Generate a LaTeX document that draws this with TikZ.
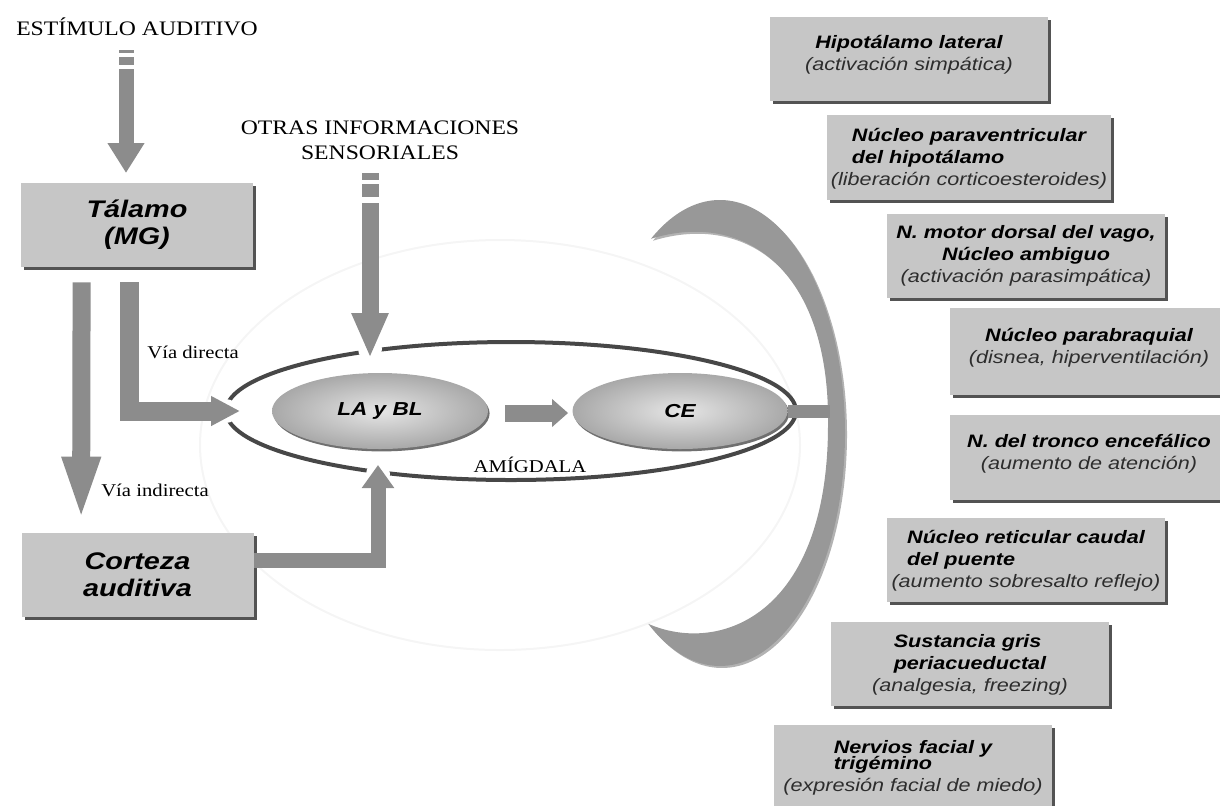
\documentclass[tikz,border=0pt]{standalone}
\usepackage{fontspec}
\setmainfont{Liberation Serif}
\newfontfamily\headfont[FakeStretch=1.15]{Liberation Serif}
\newfontfamily\boxfont[FakeStretch=1.2]{Liberation Sans}
\usetikzlibrary{shapes.geometric,arrows.meta,shadows,calc}
\definecolor{boxgray}{RGB}{198,198,198}
\definecolor{arrowgray}{RGB}{140,140,140}
\definecolor{arcgray}{RGB}{152,152,152}
\definecolor{subgray}{RGB}{45,45,45}
\newcommand{\subtxt}[1]{{\mdseries\color{subgray}#1}}

\begin{document}
\begin{tikzpicture}[x=0.5pt,y=-0.5pt,
        headtxt/.style={font=\headfont\fontsize{10.3}{12.5}\selectfont,align=center},
        smalltxt/.style={font=\headfont\fontsize{9}{11}\selectfont},
        bigbox/.style={rectangle,fill=boxgray,minimum width=116pt,minimum height=42pt,align=center,
            font=\boxfont\bfseries\itshape\fontsize{12}{13.5}\selectfont,
            drop shadow={shadow xshift=1.5pt,shadow yshift=-1.5pt,fill=black!75,opacity=.9}},
        sidebox/.style={rectangle,fill=boxgray,minimum width=139pt,minimum height=42pt,align=center,
            inner xsep=2pt,font=\boxfont\bfseries\itshape\fontsize{9}{11}\selectfont,
            drop shadow={shadow xshift=1.5pt,shadow yshift=-1.5pt,fill=black!75,opacity=.9}},
        nucleus/.style={ellipse,minimum width=108pt,minimum height=38pt,inner color=black!10,outer color=black!34,
            font=\boxfont\bfseries\itshape\fontsize{9.4}{11}\selectfont,
            drop shadow={shadow xshift=.8pt,shadow yshift=-1.2pt,fill=black!70,opacity=.8}},
        fatarrow/.style n args={3}{draw=arrowgray,line width=#1,line join=miter,-{Triangle[width=#2,length=#3]}},
        stubline/.style={draw=arrowgray,line width=#1}]
        \useasboundingbox (0,0) rectangle (1220,805);

        % faint background ring
        \draw[black!4,line width=1pt] (500,445) ellipse [x radius=300, y radius=205];

        % titles
        \node[headtxt] (estimulo) at (137,27) {ESTÍMULO AUDITIVO};
        \node[headtxt] (otras) at (380,140) {OTRAS INFORMACIONES\\SENSORIALES};

        % left boxes
        \node[bigbox] (talamo) at (137,225) {Tálamo\\(MG)};
        \node[bigbox] (corteza) at (137.5,575) {Corteza\\auditiva};

        % amygdala
        \node[ellipse,draw=black!72,line width=2pt,minimum width=285pt,minimum height=69pt] (amyg) at (511,411) {};
        \node[nucleus] (labl) at (380,411) {LA y BL};
        \node[nucleus,minimum width=107.5pt] (ce) at (680,411) {CE};
        \node[smalltxt] (amyglabel) at (530,465) {AMÍGDALA};
        \fill[white] (226,411) circle[radius=6pt];
        \fill[white] (370,349) circle[radius=6pt];
        \fill[white] (378,474) circle[radius=6pt];

        % crescent
        \coordinate (M) at (720,433);
        \coordinate (T) at ($(M)+(-123.5:125 and 233)$);
        \fill[arcgray,drop shadow={shadow xshift=1pt,shadow yshift=-1pt,fill=black!60,opacity=.5}]
            (T) arc[start angle=-123.5, end angle=125, x radius=125, y radius=233]
            .. controls (720,655) and (828,615) .. (828,425)
            .. controls (830,270) and (745,210) .. (T) -- cycle;
        \coordinate (arcin) at (830,411);
        \draw[draw=arrowgray,line width=6.5pt] (ce.east) -- (arcin);

        % arrows
        \coordinate (E1) at (126,69);
        \coordinate (E2) at (126,173);
        \draw[stubline=7.5pt] (126,50) -- (126,53);
        \draw[stubline=7.5pt] (126,57) -- (126,65);
        \draw[fatarrow={7.5pt}{17.5pt}{15pt}] (E1) -- (E2);

        \coordinate (O1) at (370,203);
        \coordinate (O2) at (370,358);
        \draw[stubline=8.5pt] (370,173) -- (370,180);
        \draw[stubline=8.5pt] (370,184) -- (370,197);
        \draw[fatarrow={8.5pt}{17pt}{22.5pt}] (O1) -- (O2);

        \coordinate (I1) at ($(talamo.south west)+(61,15)$);
        \coordinate (I2) at ($(corteza.north west)+(60,-10)$);
        \draw[fatarrow={9pt}{17pt}{33pt}] (I1) -- (I2);
        \node[smalltxt] (indirecta) at (155,490) {Vía indirecta};

        \coordinate (D1) at ($(talamo.south west)+(109,15)$);
        \coordinate (D2) at ($(amyg.west)+(16,0)$);
        \draw[fatarrow={9.5pt}{14pt}{14.5pt}] (D1) |- (D2);
        \node[smalltxt] (directa) at (193,352) {Vía directa};

        \coordinate (C1) at (corteza.east |- 0,560);
        \coordinate (C2) at (378,465);
        \draw[fatarrow={7.5pt}{15.5pt}{11.5pt}] (C1) -| (C2);

        \draw[fatarrow={8.5pt}{13.5pt}{8pt}] ($(labl.east)+(17,2)$) -- ($(ce.west)+(-4,2)$);

        % output boxes
        \node[sidebox] (hipolat) at (909,59) {Hipotálamo lateral\\\subtxt{(activación simpática)}\\[-5pt]\mbox{}};
        \node[sidebox,minimum height=42.5pt] (paravent) at (969,157.5) {\begin{tabular}[b]{@{}l@{}}Núcleo paraventricular\\del hipotálamo\end{tabular}\\\subtxt{(liberación corticoesteroides)}};
        \node[sidebox] (vago) at (1026,256) {N. motor dorsal del vago,\\Núcleo ambiguo\\\subtxt{(activación parasimpática)}};
        \node[sidebox,minimum height=43.5pt] (parabraq) at (1089,351.5) {Núcleo parabraquial\\\subtxt{(disnea, hiperventilación)}\\[-5pt]\mbox{}};
        \node[sidebox,minimum height=42.5pt] (tronco) at (1089,457.5) {N. del tronco encefálico\\\subtxt{(aumento de atención)}\\[-5pt]\mbox{}};
        \node[sidebox] (reticular) at (1026,560) {\begin{tabular}[b]{@{}l@{}}Núcleo reticular caudal\\del puente\end{tabular}\\\subtxt{(aumento sobresalto reflejo)}};
        \node[sidebox] (gris) at (970,664) {\begin{tabular}[b]{@{}l@{}}Sustancia gris\\periacueductal\end{tabular}\\\subtxt{(analgesia, freezing)}};
        \node[sidebox] (facial) at (913,767) {\begin{tabular}[b]{@{}l@{}}Nervios facial y\\[-3pt]trigémino\end{tabular}\\\subtxt{(expresión facial de miedo)}};

        \end{tikzpicture}
\end{document}
